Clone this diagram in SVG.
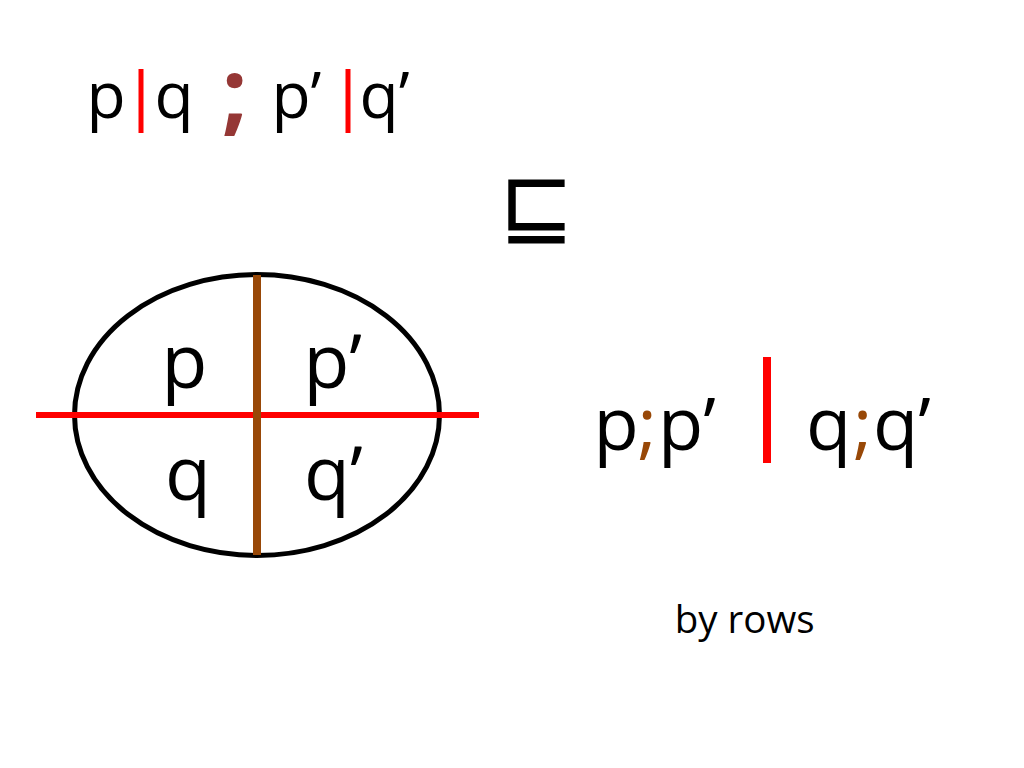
<svg xmlns="http://www.w3.org/2000/svg" width="1024" height="768" viewBox="0 0 1024 768">
<style>
.t{font-family:"Open Sans","Liberation Sans",sans-serif;fill:#000}
.top{font-size:64px}
.big{font-size:75px}
.mid{font-size:74px}
.semi{fill:#984807}
.bar{stroke:#FF0000;stroke-linecap:butt}
</style>
<rect width="1024" height="768" fill="#fff"/>
<g id="top-formula">
<text class="t top" x="86.4" y="118">p</text>
<line class="bar" x1="141" y1="69" x2="141" y2="133" stroke-width="5"/>
<text class="t top" x="154.5" y="118">q</text>
<text class="t" x="234.5" y="124" text-anchor="middle" style="font-size:92px;font-weight:bold;fill:#953735">;</text>
<text class="t top" x="271.4" y="118">p’</text>
<line class="bar" x1="348" y1="69" x2="348" y2="133" stroke-width="5"/>
<text class="t top" x="359.5" y="118">q’</text>
</g>
<g id="refines">
<text x="536.5" y="236" text-anchor="middle" style="font-family:'DejaVu Sans',sans-serif;font-size:90px;fill:#000">⊑</text>
</g>
<g id="grid">
<ellipse cx="257" cy="415" rx="182.5" ry="140.5" fill="none" stroke="#000" stroke-width="5"/>
<g id="connectors">
<line x1="36" y1="415" x2="479" y2="415" stroke="#FF0000" stroke-width="6"/>
<line x1="257" y1="275" x2="257" y2="555" stroke="#984807" stroke-width="8"/>
</g>
<text class="t big" x="161.4" y="388">p</text>
<text class="t big" x="303.4" y="388">p’</text>
<text class="t big" x="165" y="500">q</text>
<text class="t big" x="304" y="500">q’</text>
</g>
<g id="right-formula">
<text class="t mid" y="450"><tspan x="593.5">p</tspan><tspan class="semi" x="637.5">;</tspan><tspan x="658">p’</tspan></text>
<line class="bar" x1="767" y1="357" x2="767" y2="463" stroke-width="8"/>
<text class="t mid" y="450"><tspan x="806">q</tspan><tspan class="semi" x="853">;</tspan><tspan x="873">q’</tspan></text>
</g>
<g id="caption">
<text class="t" x="674.7" y="633" style="font-size:38.5px">by rows</text>
</g>
</svg>
